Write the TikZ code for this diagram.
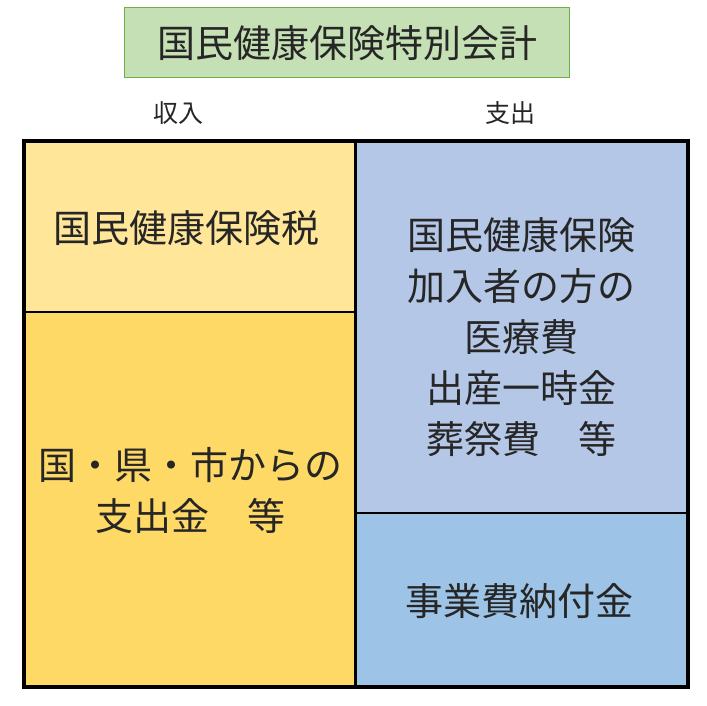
\documentclass[tikz,border=0pt]{standalone}
\usepackage{fontspec}
\newfontfamily\cjk{Noto Sans CJK JP}
\definecolor{tgreen}{HTML}{C5E0B4}
\definecolor{tgreenb}{HTML}{70AD47}
\definecolor{ylight}{HTML}{FFE699}
\definecolor{ydark}{HTML}{FFD966}
\definecolor{blight}{HTML}{B4C7E7}
\definecolor{bdark}{HTML}{9DC3E6}
\begin{document}
\begin{tikzpicture}[x=1pt,y=-1pt,
  big/.style={font=\cjk\fontsize{38}{51}\selectfont,align=center,text=black!85},
  small/.style={font=\cjk\fontsize{25}{28}\selectfont,text=black!85},
  cell/.style={draw=black,line width=1.2pt}]
\useasboundingbox (0,0) rectangle (707,706);
\node[draw=tgreenb,fill=tgreen,line width=1pt,minimum width=445pt,minimum height=70pt,big,font=\cjk\fontsize{38}{40}\selectfont] (title) at (347,43) {国民健康保険特別会計};
\node[small] (in) at (178,113) {収入};
\node[small] (out) at (510,113) {支出};
\fill[ylight] (24,141) rectangle (355,312);
\fill[ydark] (24,312) rectangle (355,687);
\fill[blight] (355,141) rectangle (688,513);
\fill[bdark] (355,513) rectangle (688,687);
\draw[line width=1.2pt] (24,312) -- (355,312);
\draw[line width=1.2pt] (355,513) -- (688,513);
\draw[line width=3pt] (355,141) -- (355,687);
\draw[line width=4.5pt] (24,141) rectangle (688,687);
\node[big] (tax) at (186,228) {国民健康保険税};
\node[big] (sub) at (190,491) {国・県・市からの\\支出金　等};
\node[big] (med) at (521,337) {国民健康保険\\加入者の方の\\医療費\\出産一時金\\葬祭費　等};
\node[big] (fee) at (519,601) {事業費納付金};
\end{tikzpicture}
\end{document}
